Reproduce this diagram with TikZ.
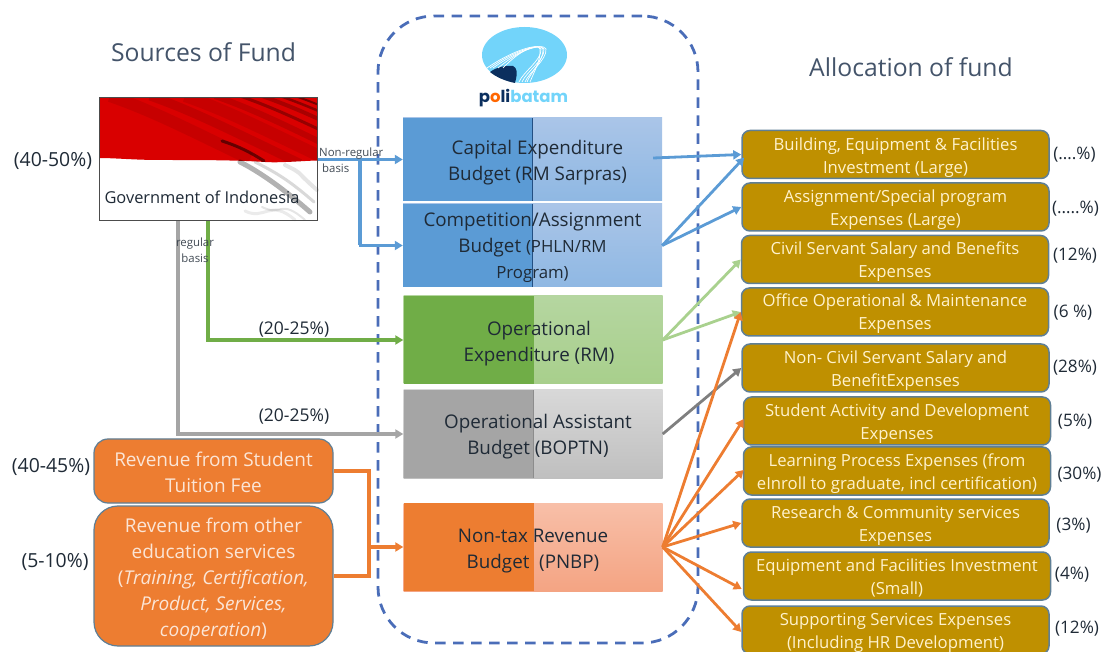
\documentclass[tikz,border=0pt]{standalone}
\usepackage{fontspec}
\setmainfont{Open Sans}
\newfontfamily\logofont{Poppins}
\usetikzlibrary{arrows.meta,shapes.geometric}
\definecolor{frameblue}{HTML}{4A6DB8}
\definecolor{gold}{HTML}{BF9000}
\definecolor{goldtxt}{HTML}{FFF2CC}
\definecolor{edge}{HTML}{5F7F95}
\definecolor{orangeF}{HTML}{ED7D31}
\definecolor{orangeT}{HTML}{FBE5D6}
\definecolor{arrowblue}{HTML}{5B9BD5}
\definecolor{arrowgreen}{HTML}{70AD47}
\definecolor{arrowlgreen}{HTML}{A9D18E}
\definecolor{arrowgray}{HTML}{A5A5A5}
\definecolor{arrowdgray}{HTML}{7F7F7F}
\definecolor{ink}{HTML}{1F2A36}
\definecolor{titlecol}{HTML}{44546A}
\definecolor{navy}{HTML}{0B2F5E}
\definecolor{sky}{HTML}{72D4FA}
\definecolor{flagred}{HTML}{D90000}
\definecolor{bluetop}{HTML}{AAC5E8}
\definecolor{bluebot}{HTML}{8FB8E3}
\definecolor{greentop}{HTML}{B5D6A0}
\definecolor{greenbot}{HTML}{A8CF8C}
\definecolor{graytop}{HTML}{D8D8D8}
\definecolor{graybot}{HTML}{BFBFBF}
\definecolor{ortop}{HTML}{F8BFA8}
\definecolor{orbot}{HTML}{F4A483}
\newcommand{\fs}[2]{\fontsize{#1}{#2}\selectfont}
\newcommand{\tp}[1]{\rule{0pt}{#1}}
\newcommand{\rs}{\hspace*{10pt}}
\tikzset{
  x=1pt,y=-1pt,
  budget/.style n args={4}{minimum width=259pt,inner sep=0pt,align=center,text=ink,
    font=\fs{18.8}{26},
    path picture={
      \shade[top color=#3,bottom color=#4] (path picture bounding box.south west) rectangle (path picture bounding box.north east);
      \fill[#1] (path picture bounding box.south west) rectangle ([xshift=-0.2pt]path picture bounding box.north);
      \draw[#2,line width=0.8pt] (path picture bounding box.south) -- (path picture bounding box.north);
    }},
  goldbox/.style={draw=edge,fill=gold,line width=1.5pt,rounded corners=8pt,minimum width=307pt,minimum height=48pt,
    inner sep=0pt,align=center,text=goldtxt,font=\fs{16.7}{23}},
  srcbox/.style={draw=edge,fill=orangeF,line width=1.2pt,minimum width=239pt,inner sep=0pt,align=center,
    text=orangeT,font=\fs{19}{26}},
  pct/.style={inner sep=0pt,text=ink,font=\fs{17.2}{20}},
  bigpct/.style={inner sep=0pt,text=ink,font=\fs{19.4}{22}},
  midpct/.style={inner sep=0pt,text=ink,font=\fs{17.5}{20}},
  small/.style={inner sep=0pt,align=left,text=ink!85,font=\fs{11.4}{16}},
  heading/.style={inner sep=0pt,text=titlecol,font=\fs{24.7}{28}},
  flow/.style={line width=3.1pt,-{Triangle[length=8pt,width=9pt]}},
  flowline/.style={line width=3.1pt},
  fan/.style={line width=2.8pt,-{Triangle[length=8pt,width=9pt]}},
}
\begin{document}
\begin{tikzpicture}
\useasboundingbox (0,0) rectangle (1104,652);

% dashed frame
\node[draw=frameblue,line width=2.8pt,dash pattern=on 10.5pt off 7.5pt,rounded corners=56pt,
      minimum width=320pt,minimum height=627pt,inner sep=0pt] (frame) at (538,329.5) {};

% headings
\node[heading] (h1) at (203.5,52) {Sources of Fund};
\node[heading] (h2) at (911,67) {Allocation of fund};

% flag
\fill[white] (99.5,98) rectangle (317,221);
\begin{scope}
\clip (99.5,98) -- (317,98) -- (317,160.5)
  .. controls (300,161) and (280,163) .. (265,162)
  .. controls (235,160) and (200,160) .. (160,160)
  .. controls (135,160) and (115,158) .. (99.5,158) -- cycle;
\fill[flagred] (99.5,98) rectangle (317,165);
\foreach \o/\w/\a/\d in {.08/12/110/140,.10/9/150/150,.08/12/185/150,.12/6/215/140,.30/3/240/150,.22/4/262/130,.35/2.5/280/125,.45/2/295/118}{
  \draw[black,opacity=\o,line width=\w pt] (\a,96) .. controls (\a+40,110) and (\a+70,125) .. (\a+\d,96+0.45*\d);
}
\draw[black,opacity=.5,line width=3pt,line cap=round] (222,141) .. controls (238,146) and (250,152) .. (264,161);
\end{scope}
\foreach \o/\w/\a/\b/\c/\d in {.30/5/240/162/310/212,.15/3/255/162/314/202,.10/4/285/165/317/190,.08/3/245/211/295/220,.10/2/262/207/305/220}{
  \draw[black,opacity=\o,line width=\w pt,line cap=round] (\a,\b) .. controls (\a+20,\b+10) and (\c-25,\d-22) .. (\c,\d);
}
\node[draw=black!70,line width=1pt,minimum width=217.5pt,minimum height=123pt,inner sep=0pt] (gov) at (208.25,159.5) {};
\node[inner sep=0pt,text=ink,font=\fs{16.4}{18}] (govtext) at (202,197) {Government of Indonesia};

% logo
\fill[sky] (524.5,55) ellipse [x radius=42.5,y radius=28];
\fill[navy] (490,72) .. controls (497,67) and (506,65) .. (513,66) .. controls (517,68) and (518,72) .. (515,83)
  .. controls (505,81) and (496,77) .. cycle;
\foreach \a/\b/\c/\d in {487/525/541/519,490/527/544/522,493/530/546/525,498/532/543/527,503/533/540/530}{
  \draw[white,line width=.7pt] (\a,68) .. controls (\b-15,52) and (\c-3,42) .. (\c,49) .. controls (\c+1,60) and (\d+4,72) .. (\d,82);
}
\node[inner sep=0pt,font=\logofont\bfseries\fs{16.5}{18}] (logotext) at (523.5,98)
  {\textcolor{navy}{p}\textcolor{orange!80!red}{o}\textcolor{navy}{li}\textcolor{sky}{batam}};

% budget boxes
\node[budget={arrowblue}{navy!70!arrowblue}{bluetop}{bluebot},minimum height=83pt] (cap) at (532.5,159.5)
  {\tp{21pt}\rs Capital Expenditure\\\rs Budget (RM Sarpras)};
\node[budget={arrowblue}{navy!70!arrowblue}{bluetop}{bluebot},minimum height=83pt] (comp) at (532.5,245.5)
  {\tp{18pt}Competition/Assignment\\Budget {\fs{16.8}{24}(PHLN/RM}\\{\fs{16.8}{24}Program)}};
\node[budget={arrowgreen}{arrowgreen}{greentop}{greenbot},minimum height=88pt] (op) at (533,340)
  {\tp{22pt}\rs\hspace*{2pt}Operational\\\rs\hspace*{2pt}Expenditure (RM)};
\node[budget={arrowgray}{black!45}{graytop}{graybot},minimum height=88pt] (bop) at (533,434)
  {\tp{19pt}\rs Operational Assistant\\\rs Budget (BOPTN)};
\node[budget={orangeF}{orangeF}{ortop}{orbot},minimum height=88pt] (pn) at (533,547)
  {\tp{22pt}Non-tax Revenue\\Budget\ \ (PNBP)};

% allocation boxes
\node[goldbox] (r1) at (895.5,154.5) {\tp{19pt}Building, Equipment \& Facilities\\Investment (Large)};
\node[goldbox] (r2) at (895.5,207) {\tp{19pt}Assignment/Special program\\Expenses (Large)};
\node[goldbox] (r3) at (895,259.5) {\tp{17pt}Civil Servant Salary and Benefits\\Expenses};
\node[goldbox] (r4) at (895,312) {\tp{17pt}Office Operational \& Maintenance\\Expenses};
\node[goldbox] (r5) at (895.5,368) {\tp{19pt}Non- Civil Servant Salary and\\BenefitExpenses};
\node[goldbox] (r6) at (897,421) {\tp{19pt}Student Activity and Development\\Expenses};
\node[goldbox] (r7) at (897,471) {\tp{19pt}Learning Process Expenses (from\\eInroll to graduate, incl certification)};
\node[goldbox] (r8) at (895.5,523) {\tp{19pt}Research \& Community services\\Expenses};
\node[goldbox] (r9) at (897,576) {\tp{17pt}Equipment and Facilities Investment\\(Small)};
\node[goldbox] (r10) at (895.5,630) {\tp{19pt}Supporting Services Expenses\\(Including HR Development)};

% percentages right
\node[pct] (p1) at (1074.5,155) {(….\%)};
\node[pct] (p2) at (1075.5,209) {(…..\%)};
\node[pct] (p3) at (1075,256) {(12\%)};
\node[pct] (p4) at (1073,313) {(6 \%)};
\node[pct] (p5) at (1075,368) {(28\%)};
\node[pct] (p6) at (1075,422) {(5\%)};
\node[pct] (p7) at (1079.5,475) {(30\%)};
\node[pct] (p8) at (1073.5,526) {(3\%)};
\node[pct] (p9) at (1072,575) {(4\%)};
\node[pct] (p10) at (1077,629) {(12\%)};

% source boxes
\node[srcbox,rounded corners=14pt,minimum height=64pt] (s1) at (213.5,471)
  {\tp{17pt}Revenue from Student\\Tuition Fee};
\node[srcbox,rounded corners=24pt,minimum height=140pt] (s2) at (213.5,576)
  {\tp{21pt}Revenue from other\\education services\\(\textit{Training, Certification,}\\\textit{Product, Services,}\\\textit{cooperation})};

\node[bigpct] (pg) at (53,161) {(40-50\%)};
\node[bigpct] (ps1) at (51,467) {(40-45\%)};
\node[bigpct] (ps2) at (55,562) {(5-10\%)};
\node[midpct] (pa) at (294,330) {(20-25\%)};
\node[midpct] (pb) at (294,417) {(20-25\%)};

% connectors
\coordinate (bluefork) at (360,0);
\coordinate (greenx) at (208,0);
\coordinate (grayx) at (178,0);
\coordinate (orfork) at (369,0);

\draw[flow,arrowblue] (gov.east) -- (cap.west);
\draw[flowline,arrowblue] (bluefork |- gov.east) -- (bluefork |- comp.west);
\draw[flow,arrowblue] ([xshift=-1.5pt]bluefork |- comp.west) -- (comp.west);
\draw[flow,arrowgreen] (greenx |- gov.south) -- (greenx |- op.west) -- (op.west);
\draw[flow,arrowgray] (grayx |- gov.south) -- (grayx |- bop.west) -- (bop.west);
\draw[flowline,orangeF] (s1.east) -- (orfork |- s1.east) -- (orfork |- s2.east) -- (s2.east);
\draw[flow,orangeF] (orfork |- pn.west) -- (pn.west);

\draw[fan,arrowblue] ([xshift=-9pt,yshift=1.5pt]cap.east) -- (r1.west);
\draw[fan,arrowblue] (comp.east) -- ([xshift=3pt,yshift=-3pt]r1.west);
\draw[fan,arrowblue] (comp.east) -- (r2.west);
\draw[fan,arrowlgreen] (op.east) -- (r3.west);
\draw[fan,arrowlgreen] (op.east) -- (r4.west);
\draw[fan,arrowdgray] (bop.east) -- (r5.west);
\draw[fan,orangeF] (pn.east) -- (r4.west);
\draw[fan,orangeF] (pn.east) -- ([xshift=1pt,yshift=2pt]r6.west);
\draw[fan,orangeF] (pn.east) -- ([xshift=1pt,yshift=1pt]r7.west);
\draw[fan,orangeF] (pn.east) -- (r8.west);
\draw[fan,orangeF] (pn.east) -- ([xshift=-1pt,yshift=-13pt]r9.west);
\draw[fan,orangeF] (pn.east) -- ([yshift=-2pt]r10.west);

% small labels
\node[small,anchor=west] (lnr) at (319,160) {Non-regular\\\hspace{3pt}basis};
\node[small,align=center] (lr) at (195,250.5) {regular\\basis};
\end{tikzpicture}
\end{document}
